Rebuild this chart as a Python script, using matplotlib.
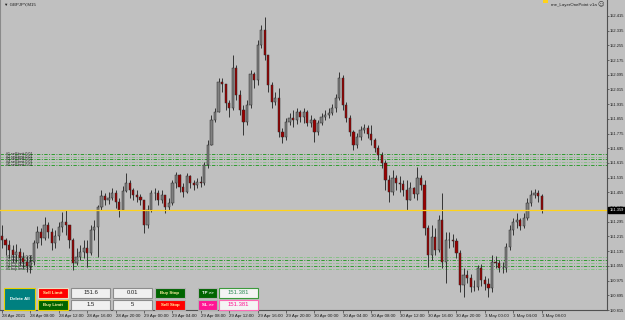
import numpy as np
import matplotlib
matplotlib.use("Agg")
import matplotlib.pyplot as plt
from matplotlib.patches import Rectangle

plt.rcParams['font.family'] = ['Liberation Sans', 'DejaVu Sans']

# GBPJPY, 30-min candles (28 Apr 04:00 -> 3 May 08:00)
first_open = 151.22
closes = [151.196, 151.169, 151.141, 151.114, 151.131, 151.098, 151.076, 151.054, 151.076, 151.180,
          151.239, 151.207, 151.278, 151.239, 151.180, 151.218, 151.267, 151.294, 151.278, 151.196,
          151.071, 151.103, 151.131, 151.152, 151.125, 151.250, 151.267, 151.376, 151.435, 151.414,
          151.425, 151.452, 151.403, 151.359, 151.463, 151.506, 151.468, 151.441, 151.430, 151.414,
          151.278, 151.359, 151.452, 151.452, 151.414, 151.441, 151.376, 151.397, 151.506, 151.550,
          151.484, 151.457, 151.544, 151.506, 151.495, 151.512, 151.506, 151.604, 151.713, 151.849,
          151.893, 152.056, 152.045, 151.941, 151.914, 152.132, 151.985, 151.903, 151.838, 151.931,
          152.099, 152.067, 152.257, 152.339, 152.203, 152.039, 151.947, 151.969, 151.784, 151.756,
          151.838, 151.860, 151.849, 151.893, 151.865, 151.893, 151.833, 151.849, 151.784, 151.833,
          151.865, 151.876, 151.887, 151.914, 151.969, 152.078, 151.931, 151.860, 151.784, 151.713,
          151.756, 151.795, 151.806, 151.773, 151.740, 151.697, 151.659, 151.615, 151.522, 151.457,
          151.533, 151.506, 151.501, 151.468, 151.414, 151.479, 151.446, 151.533, 151.495, 151.261,
          151.114, 151.212, 151.141, 151.305, 151.076, 151.196, 151.196, 151.191, 151.125, 150.951,
          151.005, 150.989, 150.940, 150.940, 151.044, 150.978, 150.956, 150.935, 151.076, 151.071,
          151.044, 151.044, 151.158, 151.250, 151.294, 151.305, 151.272, 151.316, 151.397, 151.441,
          151.452, 151.435, 151.359]
highs = [151.278, 151.207, 151.196, 151.169, 151.174, 151.152, 151.131, 151.109, 151.114, 151.196,
         151.272, 151.261, 151.321, 151.294, 151.261, 151.250, 151.294, 151.348, 151.359, 151.278,
         151.207, 151.152, 151.169, 151.196, 151.196, 151.278, 151.305, 151.386, 151.468, 151.452,
         151.457, 151.479, 151.468, 151.425, 151.490, 151.561, 151.522, 151.479, 151.468, 151.446,
         151.414, 151.386, 151.468, 151.479, 151.468, 151.468, 151.441, 151.425, 151.522, 151.566,
         151.555, 151.506, 151.561, 151.550, 151.522, 151.533, 151.544, 151.620, 151.740, 151.876,
         151.914, 152.078, 152.078, 152.045, 151.958, 152.203, 152.148, 152.012, 151.931, 151.958,
         152.121, 152.110, 152.284, 152.366, 152.409, 152.203, 152.056, 152.001, 152.023, 151.806,
         151.860, 151.887, 151.903, 151.914, 151.903, 151.914, 151.903, 151.876, 151.860, 151.849,
         151.887, 151.903, 151.914, 151.936, 151.990, 152.110, 152.094, 151.947, 151.876, 151.795,
         151.778, 151.816, 151.827, 151.822, 151.822, 151.751, 151.713, 151.675, 151.631, 151.550,
         151.577, 151.550, 151.544, 151.522, 151.522, 151.512, 151.484, 151.593, 151.550, 151.522,
         151.278, 151.278, 151.261, 151.332, 151.452, 151.239, 151.239, 151.229, 151.207, 151.141,
         151.044, 151.033, 151.011, 150.978, 151.060, 151.065, 151.000, 150.989, 151.114, 151.109,
         151.087, 151.076, 151.180, 151.278, 151.316, 151.343, 151.316, 151.343, 151.425, 151.468,
         151.474, 151.468, 151.446]
lows = [151.152, 151.114, 151.098, 151.076, 151.076, 151.060, 151.044, 151.022, 151.016, 151.060,
        151.152, 151.169, 151.196, 151.207, 151.141, 151.152, 151.196, 151.239, 151.223, 151.152,
        151.033, 151.060, 151.087, 151.098, 151.049, 151.114, 151.196, 151.103, 151.359, 151.386,
        151.392, 151.414, 151.370, 151.321, 151.386, 151.457, 151.425, 151.414, 151.403, 151.386,
        151.234, 151.261, 151.348, 151.414, 151.386, 151.397, 151.343, 151.359, 151.386, 151.479,
        151.457, 151.430, 151.452, 151.479, 151.468, 151.479, 151.484, 151.495, 151.588, 151.713,
        151.838, 151.903, 152.001, 151.903, 151.865, 151.903, 151.958, 151.876, 151.767, 151.822,
        151.914, 152.023, 152.039, 152.241, 152.175, 152.001, 151.914, 151.931, 151.756, 151.724,
        151.740, 151.822, 151.811, 151.827, 151.838, 151.833, 151.816, 151.811, 151.729, 151.767,
        151.822, 151.849, 151.860, 151.876, 151.893, 151.958, 151.903, 151.838, 151.762, 151.686,
        151.697, 151.740, 151.778, 151.751, 151.713, 151.675, 151.631, 151.588, 151.468, 151.403,
        151.441, 151.468, 151.457, 151.435, 151.359, 151.414, 151.425, 151.414, 151.468, 151.223,
        151.049, 151.087, 151.114, 151.131, 151.044, 150.962, 151.152, 151.158, 151.098, 150.913,
        150.886, 150.962, 150.913, 150.918, 150.924, 150.946, 150.924, 150.886, 150.913, 151.044,
        151.022, 151.016, 151.022, 151.141, 151.223, 151.261, 151.250, 151.261, 151.305, 151.381,
        151.425, 151.403, 151.343]

bid = 151.359
upper_levels = [151.664, 151.649, 151.635, 151.620, 151.602]
lower_levels = [151.103, 151.087, 151.071, 151.054, 151.038]
level_labels = ["#1 sell limit 0.01", "#2 sell limit 0.01", "#3 sell limit 0.01",
                "#4 sell limit 0.01", "#5 sell limit 0.01"]

price_ticks = [152.415, 152.335, 152.255, 152.175, 152.095, 152.015, 151.935, 151.855,
               151.775, 151.695, 151.615, 151.535, 151.455, 151.375, 151.295, 151.215,
               151.135, 151.055, 150.975, 150.895, 150.815]
time_labels = ["28 Apr 2021", "28 Apr 08:00", "28 Apr 12:00", "28 Apr 16:00", "28 Apr 20:00",
               "29 Apr 00:00", "29 Apr 04:00", "29 Apr 08:00", "29 Apr 12:00", "29 Apr 16:00",
               "29 Apr 20:00", "30 Apr 00:00", "30 Apr 04:00", "30 Apr 08:00", "30 Apr 12:00",
               "30 Apr 16:00", "30 Apr 20:00", "3 May 00:00", "3 May 04:00", "3 May 08:00"]
time_label_bars = list(range(0, 153, 8))

bg = "#C0C0C0"
W, H = 625, 320

fig = plt.figure(figsize=(W / 100, H / 100), dpi=100, facecolor=bg)
ax = fig.add_axes([0, 10 / H, 607 / W, 310 / H], facecolor=bg)

c = np.array(closes)
o = np.array([first_open] + closes[:-1])
hi = np.maximum(np.array(highs), np.maximum(o, c))
lo = np.minimum(np.array(lows), np.minimum(o, c))
x = np.arange(len(c))

# pending order levels
for i, lv in enumerate(upper_levels + lower_levels):
    ax.axhline(lv, color=["#2f9a2f", "#86c086"][i % 2], lw=0.7,
               ls=(0, (3.5, 1.5, 1, 1.5)), zorder=1)
for lv, lab in zip(upper_levels, level_labels):
    ax.text(1, lv, lab, fontsize=2.6, color="#151515", va="center", ha="left", zorder=2)
for lv, lab in zip(lower_levels, level_labels):
    ax.text(1, lv, lab.replace("sell", "buy"), fontsize=2.6, color="#151515",
            va="center", ha="left", zorder=2)

# candles
ax.vlines(x, lo, hi, color="#1e1e1e", lw=0.6, zorder=3)
up = c >= o
ax.bar(x[up], (c - o)[up], bottom=o[up], width=0.62, color="#808080",
       edgecolor="#2a2a2a", lw=0.35, zorder=4)
ax.bar(x[~up], (c - o)[~up], bottom=o[~up], width=0.62, color="#9a0000",
       edgecolor="#2a2a2a", lw=0.35, zorder=4)

ax.axhline(bid, color="#FFD21A", lw=0.9, zorder=5)

ax.set_xlim(-0.56, 170.4)
ax.set_ylim(150.815, 152.502)

# axes styling, MT4 look
ax.spines["top"].set_visible(False)
ax.spines["left"].set_color("#8a8a8a")
ax.spines["right"].set_color("#505050")
ax.spines["bottom"].set_color("#505050")
for s in ["left", "right", "bottom"]:
    ax.spines[s].set_linewidth(0.8)

ax.yaxis.tick_right()
ax.set_yticks(price_ticks)
ax.set_yticklabels([f"{p:.3f}" for p in price_ticks])
ax.tick_params(axis="y", direction="out", length=1.5, width=0.5, color="#404040",
               labelsize=2.9, labelcolor="#1a1a1a", pad=0.6)

ax.set_xticks(time_label_bars)
ax.set_xticklabels(time_labels, ha="left")
ax.tick_params(axis="x", direction="out", length=2, width=0.5, color="#404040",
               labelsize=3.2, labelcolor="#1a1a1a", pad=0.8)

# current price box on the scale
ax.annotate(f"{bid:.3f}", xy=(1.0, bid), xycoords=("axes fraction", "data"),
            xytext=(1.6, 0), textcoords="offset points", fontsize=2.9, color="white",
            va="center", ha="left", annotation_clip=False, zorder=10,
            bbox=dict(boxstyle="square,pad=0.25", fc="black", ec="black"))

# header texts
fig.text(4 / W, 1 - 5 / H, "\u25bc GBPJPY,M15", fontsize=3.2, color="#202020",
         va="center", ha="left")
fig.text(597 / W, 1 - 5 / H, "me_LayerOnePoint v1a", fontsize=3.2, color="#202020",
         va="center", ha="right")
fig.text(601 / W, 1 - 5 / H, "\u263a", fontsize=4.5, color="#303030",
         va="center", ha="center", family=["DejaVu Sans"])
fig.add_artist(Rectangle((543 / W, 1 - 3 / H), 5 / W, 3 / H, transform=fig.transFigure,
                         fc="#FFD21A", ec="none"))


def button(x0, y0, w, h, face, edge, text, tcolor, size=3.2, bold=True):
    fig.add_artist(Rectangle((x0 / W, 1 - (y0 + h) / H), w / W, h / H,
                             transform=fig.transFigure, fc=face, ec=edge, lw=0.8, zorder=20))
    fig.text((x0 + w / 2) / W, 1 - (y0 + h / 2) / H, text, fontsize=size, color=tcolor,
             ha="center", va="center", weight="bold" if bold else "normal", zorder=21)


button(4, 288, 31, 22, "#008080", "#E8D000", "Delete All", "white")
button(38, 288, 30, 10, "#FF0000", "#E8E0C0", "Sell Limit", "#FFF3A0")
button(38, 300, 30, 10, "#006400", "#E8D000", "Buy Limit", "#FFF3A0")
button(71, 288, 39, 10, "#F0F0F0", "#8c8c8c", "151.6", "#202020", 4.2, False)
button(71, 300, 39, 10, "#F0F0F0", "#8c8c8c", "1.5", "#202020", 4.2, False)
button(113, 288, 39, 10, "#F0F0F0", "#8c8c8c", "0.01", "#202020", 4.2, False)
button(113, 300, 39, 10, "#F0F0F0", "#8c8c8c", "5", "#202020", 4.2, False)
button(155, 288, 30, 10, "#006400", "#B0B0B0", "Buy Stop", "#FFF3A0")
button(155, 300, 30, 10, "#FF0000", "#B0B0B0", "Sell Stop", "#FFF3A0")
button(198, 288, 19, 10, "#006400", "#B0B0B0", "TP >>", "white")
button(198, 300, 19, 10, "#FF1493", "#B0B0B0", "SL >>", "white")
button(219, 288, 39, 10, "#F4F4F4", "#3c9a3c", "151.381", "#2e8b57", 4.2, False)
button(219, 300, 39, 10, "#F4F4F4", "#FF69B4", "151.381", "#FF1493", 4.2, False)

fig.savefig("out.png", dpi=100, facecolor=bg)
